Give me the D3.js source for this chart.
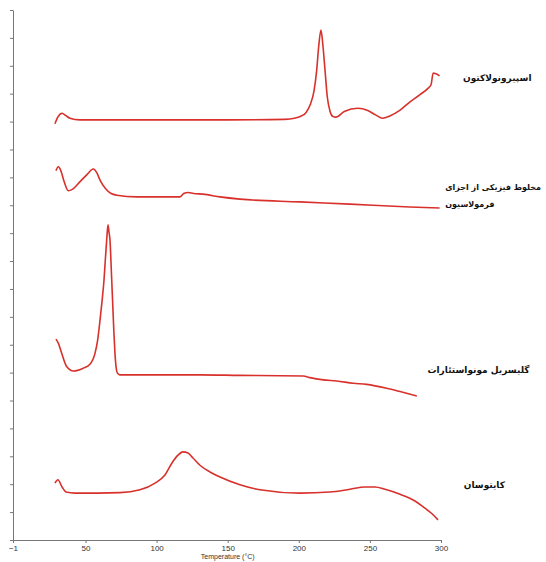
<!DOCTYPE html>
<html>
<head>
<meta charset="utf-8">
<script src="https://cdn.jsdelivr.net/npm/d3@7"></script>
<style>
  body { margin: 0; background: #fff; }
  svg { display: block; }
</style>
</head>
<body>
<svg id="dsc_chart" width="546" height="562"></svg>
<script>
// DSC thermograms, values (temperature in C, stacked heat flow in arbitrary units)
var spironolactone = [[28.5,74.6],[30.5,75.8],[33.5,76.5],[36,76.1],[39,75.6],[46,75.3],[100,75.3],[150,75.3],[190,75.4],[197,75.6],[201,75.9],[205,76.6],[208,78],[210.7,80.5],[212.5,84],[214,88.5],[215.6,91.4],[217,88.5],[218.5,84],[220,79.5],[222,76.8],[224,75.9],[226,75.8],[232,76.8],[241.5,77.4],[248.5,77.0],[254,76.2],[259,75.6],[264,76.0],[271,77.0],[278,78.5],[285,79.8],[291,81.0],[293,81.6],[294.5,83.7],[296,83.6],[299,83.2]];
var physicalMix = [[29.2,66.2],[30.9,66.9],[32.5,66.3],[35,64.2],[37.9,62.6],[41,62.9],[46,64.2],[51,65.5],[55.5,66.5],[58,65.8],[60.2,64.5],[64,63],[68,62.1],[72,61.8],[86,61.5],[100,61.5],[116.4,61.5],[119,62.1],[122.3,62.3],[126,62.1],[132.6,62.0],[144.6,61.5],[158.6,61.1],[200.8,60.6],[236,60.2],[278,59.7],[299,59.5]];
var glycerylMonostearate = [[29.2,36.0],[31,35.2],[33.2,33.5],[36.7,31.1],[41.4,30.3],[48.4,30.8],[53.1,31.5],[56.7,33.5],[58.5,35.8],[60.2,39.4],[61.7,43],[63,46.6],[64,50.5],[64.9,53.8],[65.8,56.5],[66.5,55.2],[67.2,53.8],[68.2,48],[69.1,42.5],[70,37],[70.7,33.5],[71.5,31],[72.3,30.0],[74.2,29.6],[130.5,29.6],[158.6,29.5],[203.1,29.4],[207.9,29.1],[217.2,28.7],[226.6,28.5],[238.3,28.1],[247.7,27.9],[261.8,27.2],[271.2,26.6],[283,25.8]];
var chitosan = [[28.5,10.2],[30.6,10.8],[33.5,9.5],[36.3,8.6],[42.6,8.4],[74.2,8.5],[88.3,9.0],[98.9,10.2],[106,11.7],[110.8,13.8],[115,15.2],[118.5,15.8],[122.1,15.6],[125.6,14.7],[130.5,13.4],[137.5,12.2],[144.6,11.3],[158.6,9.9],[172.7,9.0],[200.8,8.4],[221.9,8.6],[236,9.1],[246.5,9.5],[253.6,9.5],[260.6,9.1],[271.2,8.2],[281.7,7.0],[288.7,5.7],[293.7,4.7],[297.9,3.6]];

var seriesNames = [
  ["اسپیرونولاکتون"],
  ["مخلوط فیزیکی از اجزای", "فرمولاسیون"],
  ["گلیسریل مونواستئارات"],
  ["کایتوسان"]
];
var xTicks = [-1, 50, 100, 150, 200, 250, 300];
var xTitle = "Temperature (°C)";

var svg = d3.select("#dsc_chart");
var margin = {top: 10, right: 105, bottom: 22, left: 13};
var width = 546 - margin.left - margin.right;
var height = 562 - margin.top - margin.bottom;

var x = d3.scaleLinear().domain([-1, 300]).range([margin.left, margin.left + width]);
var y = d3.scaleLinear().domain([0, 95]).range([margin.top + height, margin.top]);

// axes
svg.append("g")
  .attr("transform", "translate(0," + (margin.top + height) + ")")
  .call(d3.axisBottom(x).tickValues(xTicks).tickSize(3).tickSizeOuter(0).tickFormat(d3.format("d")))
  .call(function(g) {
    g.select(".domain").attr("stroke", "#777");
    g.selectAll(".tick line").attr("stroke", "#777");
    g.selectAll(".tick text").attr("fill", "#333").attr("font-family", "Liberation Sans, Arial, sans-serif").attr("font-size", 8).attr("dy", "0.6em");
  });

svg.append("g")
  .attr("transform", "translate(" + margin.left + ",0)")
  .call(d3.axisLeft(y).tickValues(d3.range(0, 96, 5)).tickSize(3).tickSizeOuter(0).tickFormat(""))
  .call(function(g) {
    g.select(".domain").attr("stroke", "#777");
    g.selectAll(".tick line").attr("stroke", "#777");
  });

svg.append("text")
  .attr("x", x(150))
  .attr("y", 559)
  .attr("text-anchor", "middle")
  .attr("font-family", "Liberation Sans, Arial, sans-serif")
  .attr("font-size", 7)
  .attr("fill", "#333")
  .text(xTitle);

// curves
var line = d3.line()
  .x(function(d) { return x(d[0]); })
  .y(function(d) { return y(d[1]); })
  .curve(d3.curveMonotoneX);

[spironolactone, physicalMix, glycerylMonostearate, chitosan].forEach(function(s) {
  svg.append("path")
    .datum(s)
    .attr("fill", "none")
    .attr("stroke", "#d8312c")
    .attr("stroke-width", 1.6)
    .attr("stroke-linejoin", "round")
    .attr("d", line);
});

// labels: left edge temperature, baseline value, font size
var labelPos = [[315.5, 82.2, 9], [303, 62.8, 8], [290.5, 29.9, 9], [316, 9.4, 9]];
seriesNames.forEach(function(lines, i) {
  var t = svg.append("text")
    .attr("x", x(labelPos[i][0]))
    .attr("y", y(labelPos[i][1]))
    .attr("font-family", "DejaVu Sans, sans-serif")
    .attr("font-weight", "bold")
    .attr("font-size", labelPos[i][2])
    .attr("fill", "#111");
  lines.forEach(function(l, j) {
    t.append("tspan")
      .attr("x", x(labelPos[i][0]))
      .attr("dy", j == 0 ? 0 : 17)
      .text(l);
  });
});
</script>
</body>
</html>
